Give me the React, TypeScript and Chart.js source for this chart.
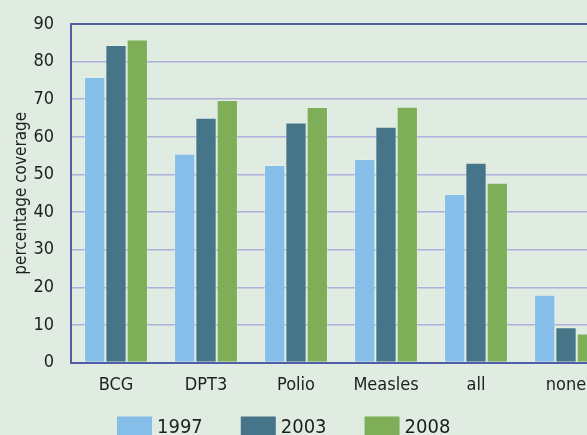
import React, { useEffect, useRef } from "react";
import { Chart, registerables } from "chart.js";

Chart.register(...registerables);

const categories = ["BCG", "DPT3", "Polio", "Measles", "all", "none"];
const seriesLabels = ["1997", "2003", "2008"];
const values1997 = [75.9, 55.5, 52.5, 54.1, 44.8, 18.0];
const values2003 = [84.4, 65.1, 63.8, 62.7, 53.1, 9.4];
const values2008 = [85.9, 69.8, 67.9, 68.0, 47.8, 7.7];
const seriesColors = ["#85bee9", "#467488", "#7eaf58"];
const yMin = 0;
const yMax = 90;
const yStep = 10;
const yTitle = "percentage coverage";

const FONT = "'Liberation Sans Narrow', 'DejaVu Sans Condensed', 'Arial Narrow', sans-serif";
const TEXT = "#1e1e1e";
const BG = "#e0ebe1";
const AXIS = "#4f5ea6";
const GRID = "#aeb0dc";

const legendPlugin = {
  id: "customLegend",
  afterDraw(chart: any) {
    const ctx = chart.ctx;
    const area = chart.chartArea;
    ctx.save();
    ctx.font = `20px ${FONT}`;
    let x = area.left + 46;
    const top = area.bottom + 54;
    chart.data.datasets.forEach((ds: any) => {
      ctx.fillStyle = ds.backgroundColor;
      ctx.fillRect(x, top, 35, 24);
      ctx.fillStyle = TEXT;
      ctx.textBaseline = "middle";
      ctx.textAlign = "left";
      ctx.fillText(ds.label, x + 40, top + 11);
      x += 35 + 5 + ctx.measureText(ds.label).width + 38;
    });
    ctx.restore();
  },
};

export default function App() {
  const ref = useRef<HTMLCanvasElement | null>(null);

  useEffect(() => {
    if (!ref.current) return;
    const seriesValues = [values1997, values2003, values2008];
    const chart = new Chart(ref.current, {
      type: "bar",
      data: {
        labels: categories,
        datasets: seriesLabels.map((label, i) => ({
          label,
          data: seriesValues[i],
          backgroundColor: seriesColors[i],
          borderColor: "rgba(235,245,240,0.35)",
          borderWidth: 1,
          barPercentage: 1,
          categoryPercentage: 0.71,
        })),
      },
      options: {
        animation: false,
        responsive: false,
        devicePixelRatio: 1,
        layout: { padding: { top: 24, right: 9, left: 0, bottom: 0 } },
        plugins: {
          legend: { display: false },
          tooltip: { enabled: false },
        },
        scales: {
          x: {
            grid: { display: false, drawTicks: false },
            border: { color: AXIS, width: 2 },
            ticks: { color: TEXT, font: { family: FONT, size: 18 }, padding: 12 },
            afterFit: (scale: any) => {
              scale.height = 87.5;
            },
          },
          y: {
            min: yMin,
            max: yMax,
            grid: {
              drawTicks: false,
              color: (c: any) => (c.tick && c.tick.value === yMax ? AXIS : GRID),
              lineWidth: (c: any) => (c.tick && c.tick.value === yMax ? 2 : 1.5),
            },
            border: { color: AXIS, width: 2 },
            ticks: {
              stepSize: yStep,
              color: TEXT,
              font: { family: FONT, size: 18 },
              padding: 17,
            },
            title: {
              display: true,
              text: yTitle,
              color: TEXT,
              font: { family: FONT, size: 17 },
              padding: { top: 11, bottom: 0 },
            },
            afterFit: (scale: any) => {
              scale.width = 71;
              scale.paddingTop = 0;
              scale.paddingBottom = 0;
            },
          },
        },
      },
      plugins: [legendPlugin],
    });
    return () => chart.destroy();
  }, []);

  return (
    <div
      style={{
        position: "fixed",
        left: 0,
        top: 0,
        width: 587,
        height: 435,
        overflow: "hidden",
        background: BG,
      }}
    >
      <canvas ref={ref} width={620} height={450} style={{ display: "block" }} />
    </div>
  );
}
